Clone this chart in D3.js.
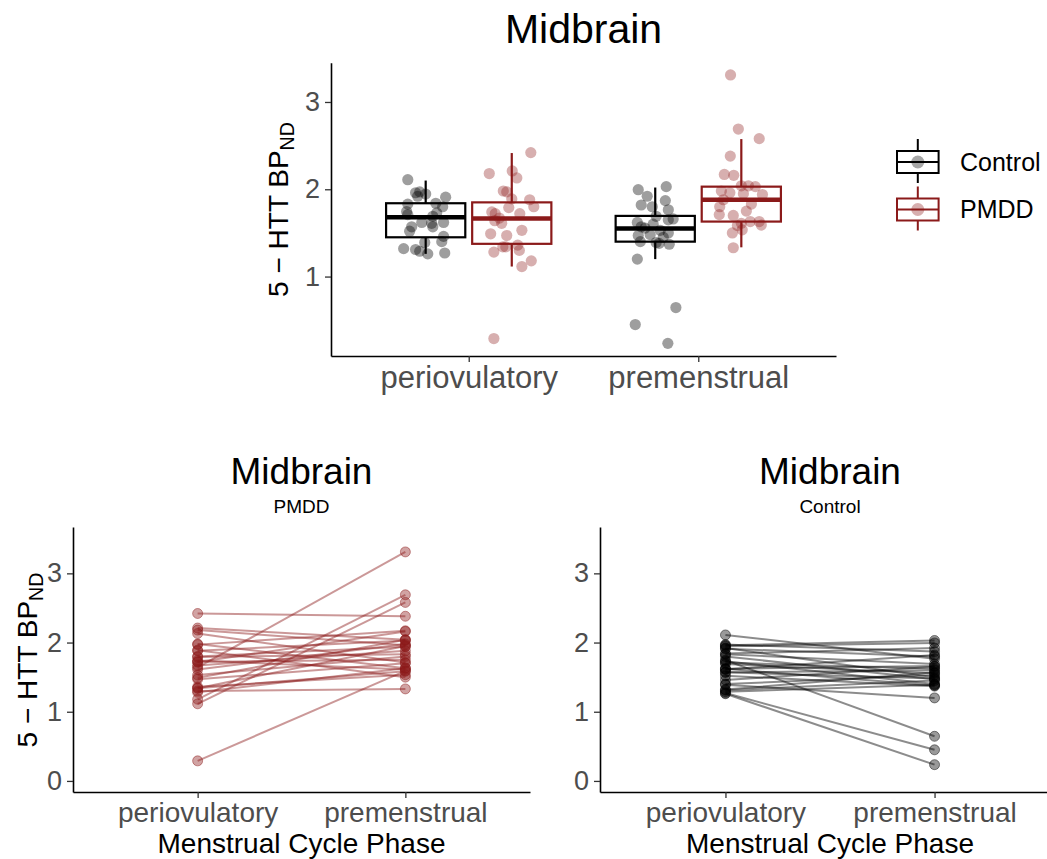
<!DOCTYPE html>
<html lang="en">
<head>
<meta charset="UTF-8">
<title>Midbrain 5-HTT</title>
<script src="https://d3js.org/d3.v7.min.js"></script>
<style>
  body { margin: 0; background: #fff; }
  svg { display: block; font-family: "Liberation Sans", Arial, Helvetica, sans-serif; }
</style>
</head>
<body>
<script>
// ---- data ----
const phases = ["periovulatory", "premenstrual"];
const groups = ["Control", "PMDD"];

// paired subjects: value at periovulatory phase, value at premenstrual phase
const pmddPeri = [2.42, 2.18, 2.21, 2.13, 1.98, 1.97, 1.89, 1.88, 1.80, 1.79, 1.74, 1.72, 1.67, 1.64,
                  1.61, 1.72, 1.49, 1.47, 1.53, 1.34, 1.34, 1.36, 1.30, 1.28, 1.18, 1.115, 0.29];
const pmddPre  = [2.38, 1.96, 2.04, 1.71, 1.63, 2.17, 1.50, 2.03, 1.94, 1.83, 1.61, 2.16, 1.88, 3.31,
                  1.98, 1.75, 2.04, 1.70, 1.80, 1.585, 1.95, 1.535, 1.33, 1.63, 2.69, 2.58, 1.59];
const ctrlPeri = [2.11, 1.96, 1.97, 1.945, 1.92, 1.91, 1.84, 1.80, 1.83, 1.745, 1.71, 1.73, 1.69, 1.61,
                  1.62, 1.62, 1.57, 1.57, 1.52, 1.46, 1.40, 1.39, 1.32, 1.31, 1.29, 1.26, 1.27];
const ctrlPre  = [1.765, 2.03, 1.87, 1.995, 1.50, 1.80, 1.92, 1.47, 1.69, 0.645, 1.62, 1.40, 1.555, 1.82,
                  1.38, 1.66, 1.48, 1.60, 1.37, 1.65, 1.53, 1.20, 1.57, 1.45, 1.39, 0.235, 0.45];

// horizontal jitter of each point in the top panel (x-axis category units)
const pmddPeriJit = [0.083, -0.098, 0.002, 0.022, -0.037, -0.022, 0, 0.078, 0.096, -0.013, -0.087, -0.072, -0.054, -0.074,
                     -0.044, 0.035, -0.092, -0.022, 0.044, -0.039, -0.026, 0.026, 0.033, -0.078, 0.085, 0.044, -0.078];
const pmddPreJit  = [-0.048, -0.050, 0, -0.096, 0.039, -0.074, -0.039, 0.061, 0.092, 0.044, 0, -0.033, -0.078, -0.047,
                     -0.087, 0.022, 0.031, -0.035, -0.094, -0.017, 0.009, 0.004, -0.035, 0.078, -0.013, 0.078, 0.087];
const ctrlPeriJit = [-0.078, -0.044, -0.026, 0, -0.035, 0.087, 0.044, 0.074, -0.078, -0.083, -0.078, 0.048, 0.031, 0.026,
                     0.078, -0.017, -0.061, 0.031, -0.070, 0.078, 0.070, -0.004, -0.096, -0.044, -0.026, 0.009, 0.083];
const ctrlPreJit  = [0.057, 0.048, 0.044, -0.074, 0.057, -0.013, -0.035, -0.074, 0.004, 0.090, -0.078, -0.065, -0.044, -0.061,
                     0.017, 0.078, -0.022, -0.009, 0.061, 0.057, 0.022, -0.078, -0.061, 0.035, 0.004, 0.055, -0.087];

// boxplot stats: [lower whisker, Q1, median, Q3, upper whisker]
const boxStats = [
  {group: "Control", phase: "periovulatory", s: [1.26, 1.45, 1.68, 1.84, 2.10]},
  {group: "PMDD",    phase: "periovulatory", s: [1.115, 1.375, 1.665, 1.85, 2.415]},
  {group: "Control", phase: "premenstrual",  s: [1.20, 1.40, 1.55, 1.695, 2.02]},
  {group: "PMDD",    phase: "premenstrual",  s: [1.335, 1.63, 1.88, 2.03, 2.575]}
];

const yTicksTop = [1, 2, 3];
const yTicksBottom = [0, 1, 2, 3];
const colour = {Control: "#000000", PMDD: "#8b1a1a"};
const tickGrey = "#4d4d4d";

// ---- drawing ----
const svg = d3.select("body").append("svg").attr("width", 1047).attr("height", 859);
svg.append("rect").attr("width", 1047).attr("height", 859).attr("fill", "#fff");

function styleAxis(g, size) {
  g.select(".domain").attr("stroke", "#000").attr("stroke-width", 1.6);
  g.selectAll(".tick line").attr("stroke", "#333").attr("stroke-width", 1.3);
  g.selectAll(".tick text").attr("fill", tickGrey).style("font-size", size + "px");
}

function yTitle(g, x, y, size) {
  const t = g.append("text")
    .attr("transform", `translate(${x},${y}) rotate(-90)`)
    .attr("text-anchor", "middle")
    .style("font-size", size + "px")
    .attr("fill", "#000");
  t.append("tspan").text("5 \u2212 HTT BP");
  t.append("tspan").text("ND").style("font-size", (size * 0.7) + "px").attr("dy", size * 0.22);
}

// top panel: boxplots with jittered points
const topPanel = svg.append("g");
const xTop = d3.scalePoint().domain(phases).range([331, 836]).padding(0.6);
const yTop = d3.scaleLinear().domain([0.09, 3.45]).range([356, 62.7]);
const step = xTop.step();
const dodge = d3.scalePoint().domain(groups).range([-0.1875, 0.1875]);
const boxW = 0.345 * step;

topPanel.append("g").attr("transform", "translate(331,0)")
  .call(d3.axisLeft(yTop).tickValues(yTicksTop).tickFormat(d3.format("d")).tickSize(6).tickSizeOuter(0).tickPadding(5))
  .call(g => styleAxis(g, 27));
topPanel.append("g").attr("transform", "translate(0,356)")
  .call(d3.axisBottom(xTop).tickSize(6).tickSizeOuter(0).tickPadding(4))
  .call(g => styleAxis(g, 31));

boxStats.forEach(b => {
  const cx = xTop(b.phase) + dodge(b.group) * step;
  const c = colour[b.group];
  const bg = topPanel.append("g").attr("stroke", c).attr("fill", "none");
  bg.append("line").attr("x1", cx).attr("x2", cx).attr("y1", yTop(b.s[0])).attr("y2", yTop(b.s[1])).attr("stroke-width", 2.2);
  bg.append("line").attr("x1", cx).attr("x2", cx).attr("y1", yTop(b.s[3])).attr("y2", yTop(b.s[4])).attr("stroke-width", 2.2);
  bg.append("rect").attr("x", cx - boxW / 2).attr("width", boxW)
    .attr("y", yTop(b.s[3])).attr("height", yTop(b.s[1]) - yTop(b.s[3]))
    .attr("fill", "#fff").attr("stroke-width", 2.2);
  bg.append("line").attr("x1", cx - boxW / 2).attr("x2", cx + boxW / 2)
    .attr("y1", yTop(b.s[2])).attr("y2", yTop(b.s[2])).attr("stroke-width", 4.4);
});

const jitterSets = [
  {group: "Control", phase: "periovulatory", v: ctrlPeri, j: ctrlPeriJit},
  {group: "PMDD",    phase: "periovulatory", v: pmddPeri, j: pmddPeriJit},
  {group: "Control", phase: "premenstrual",  v: ctrlPre,  j: ctrlPreJit},
  {group: "PMDD",    phase: "premenstrual",  v: pmddPre,  j: pmddPreJit}
];
jitterSets.forEach(set => {
  topPanel.append("g").selectAll("circle").data(set.v).join("circle")
    .attr("cx", (d, i) => xTop(set.phase) + (dodge(set.group) + set.j[i]) * step)
    .attr("cy", d => yTop(d))
    .attr("r", 5.6)
    .attr("fill", colour[set.group])
    .attr("fill-opacity", set.group === "PMDD" ? 0.35 : 0.38);
});

topPanel.append("text").attr("x", 583.5).attr("y", 43).attr("text-anchor", "middle")
  .style("font-size", "41px").text("Midbrain");
yTitle(topPanel, 288, 209.5, 28);

// legend
const legend = svg.append("g").attr("transform", "translate(897,0)");
const legendRows = [{group: "Control", y: 162}, {group: "PMDD", y: 209.5}];
legendRows.forEach(r => {
  const c = colour[r.group];
  const k = legend.append("g").attr("stroke", c).attr("fill", "none").attr("stroke-width", 2);
  k.append("line").attr("x1", 20.8).attr("x2", 20.8).attr("y1", r.y - 23).attr("y2", r.y + 21);
  k.append("rect").attr("x", 0).attr("width", 41.6).attr("y", r.y - 11).attr("height", 22).attr("fill", "#fff");
  k.append("line").attr("x1", 0).attr("x2", 41.6).attr("y1", r.y).attr("y2", r.y);
  legend.append("circle").attr("cx", 20.8).attr("cy", r.y).attr("r", 6.5)
    .attr("fill", c).attr("fill-opacity", 0.35);
  legend.append("text").attr("x", 63).attr("y", r.y).attr("dy", "0.35em")
    .style("font-size", "25px").text(r.group);
});

// bottom panels: paired lines
function pairedPanel(range, pre, post, group, showYTitle) {
  const g = svg.append("g");
  const c = colour[group];
  const x = d3.scalePoint().domain(phases).range(range).padding(0.6);
  const y = d3.scaleLinear().domain([-0.16, 3.67]).range([792, 527]);
  g.append("g").attr("transform", `translate(${range[0]},0)`)
    .call(d3.axisLeft(y).tickValues(yTicksBottom).tickFormat(d3.format("d")).tickSize(6).tickSizeOuter(0).tickPadding(5))
    .call(a => styleAxis(a, 27));
  g.append("g").attr("transform", "translate(0,792)")
    .call(d3.axisBottom(x).tickSize(6).tickSizeOuter(0).tickPadding(4))
    .call(a => styleAxis(a, 28));
  const pairs = pre.map((v, i) => [v, post[i]]);
  g.append("g").selectAll("line").data(pairs).join("line")
    .attr("x1", x(phases[0])).attr("x2", x(phases[1]))
    .attr("y1", d => y(d[0])).attr("y2", d => y(d[1]))
    .attr("stroke", c).attr("stroke-width", 2).attr("stroke-opacity", 0.45);
  phases.forEach((p, k) => {
    g.append("g").selectAll("circle").data(pairs).join("circle")
      .attr("cx", x(p)).attr("cy", d => y(d[k])).attr("r", 5)
      .attr("fill", c).attr("fill-opacity", 0.4)
      .attr("stroke", c).attr("stroke-opacity", 0.45).attr("stroke-width", 1);
  });
  const mid = (range[0] + range[1]) / 2;
  g.append("text").attr("x", mid).attr("y", 484).attr("text-anchor", "middle")
    .style("font-size", "37px").text("Midbrain");
  g.append("text").attr("x", mid).attr("y", 513).attr("text-anchor", "middle")
    .style("font-size", "19px").text(group);
  g.append("text").attr("x", mid).attr("y", 853).attr("text-anchor", "middle")
    .style("font-size", "28px").text("Menstrual Cycle Phase");
  if (showYTitle) yTitle(g, 37, 660, 28);
}

pairedPanel([73, 530], pmddPeri, pmddPre, "PMDD", true);
pairedPanel([600, 1060], ctrlPeri, ctrlPre, "Control", false);
</script>
</body>
</html>
